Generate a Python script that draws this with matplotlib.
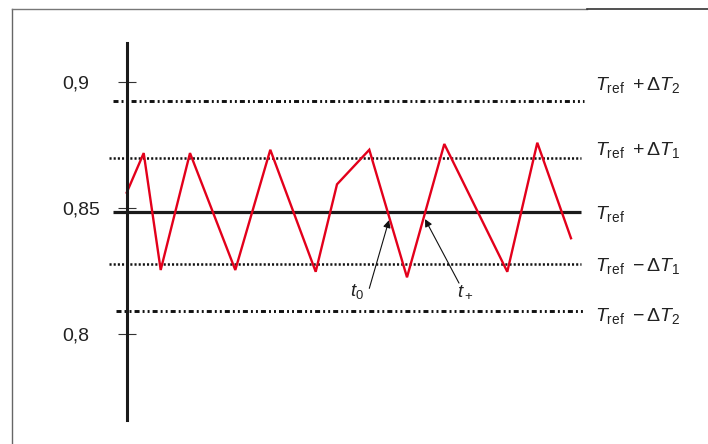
import matplotlib.pyplot as plt
from matplotlib.lines import Line2D

plt.rcParams['font.family'] = ['Liberation Sans', 'DejaVu Sans']
plt.rcParams['mathtext.fontset'] = 'custom'
plt.rcParams['mathtext.rm'] = 'Liberation Sans'
plt.rcParams['mathtext.it'] = 'Liberation Sans:italic'
plt.rcParams['lines.scale_dashes'] = False

# temperature course (time in arbitrary units)
t = [-0.03, 1.67, 3.37, 6.3, 10.83, 14.33, 18.87, 21.0, 24.23, 28.0,
     31.73, 38.03, 41.03, 44.4]
temp = [0.8561, 0.8718, 0.8254, 0.8718, 0.8254, 0.8731, 0.8247, 0.8594,
        0.8731, 0.8225, 0.8754, 0.8247, 0.8759, 0.838]

# reference levels
t_ref = 0.8484
level_plus2 = 0.8926
level_plus1 = 0.8697
level_minus1 = 0.8277
level_minus2 = 0.8091

ytick_vals = [0.8, 0.85, 0.9]
ytick_labels = ['0,8', '0,85', '0,9']

# crossing times marked with arrows
t0_point = (26.2, 0.8452)
tplus_point = (29.8, 0.8456)

fig = plt.figure(figsize=(7.08, 4.44), dpi=100)
ax = fig.add_axes([0, 0, 1, 1])
ax.set_xlim(-12.7, 58.1)
ax.set_ylim(0.75635, 0.93254)

for s in ['top', 'right', 'bottom']:
    ax.spines[s].set_visible(False)
ax.spines['left'].set_position(('data', 0))
ax.spines['left'].set_bounds(0.7659, 0.9155)
ax.spines['left'].set_linewidth(2.2)
ax.spines['left'].set_color('#1a1a1a')
ax.set_xticks([])
ax.set_yticks(ytick_vals, ytick_labels)
ax.tick_params(axis='y', direction='inout', length=13, width=0.8,
               color='#333333', labelsize=14, pad=40, labelcolor='#222222')
for lab in ax.get_yticklabels():
    lab.set_horizontalalignment('left')

dashdotdot = (0, (3.6, 2.2, 1.4, 2.2, 1.4, 2.2))
dotted = (0, (1.5, 1.5))
ax.hlines(level_plus2, -1.4, 45.7, colors='#111111', lw=2.1, linestyles=[dashdotdot])
ax.hlines(level_minus2, -1.1, 45.8, colors='#111111', lw=2.1, linestyles=[dashdotdot])
ax.hlines(level_plus1, -1.8, 45.4, colors='#111111', lw=1.8, linestyles=[dotted])
ax.hlines(level_minus1, -1.8, 45.4, colors='#111111', lw=1.8, linestyles=[dotted])
ax.hlines(t_ref, -1.4, 45.4, colors='#1a1a1a', lw=2.3)

ax.plot(t, temp, color='#e3001b', lw=1.7, solid_joinstyle='miter')

lab_x = 46.8
fs = 14
ax.text(lab_x, 0.8988, r'$T_{\mathrm{ref}}\ +\Delta T_2$', fontsize=fs, va='center', color='#222222')
ax.text(lab_x, 0.8730, r'$T_{\mathrm{ref}}\ +\Delta T_1$', fontsize=fs, va='center', color='#222222')
ax.text(lab_x, 0.8478, r'$T_{\mathrm{ref}}$', fontsize=fs, va='center', color='#222222')
ax.text(lab_x, 0.8270, r'$T_{\mathrm{ref}}\ -\Delta T_1$', fontsize=fs, va='center', color='#222222')
ax.text(lab_x, 0.8072, r'$T_{\mathrm{ref}}\ -\Delta T_2$', fontsize=fs, va='center', color='#222222')

ax.annotate('', xy=t0_point, xytext=(24.23, 0.8181),
            arrowprops=dict(arrowstyle='-|>', color='#111111', lw=0.8,
                            mutation_scale=11, shrinkA=0, shrinkB=0))
ax.annotate('', xy=tplus_point, xytext=(33.2, 0.8202),
            arrowprops=dict(arrowstyle='-|>', color='#111111', lw=0.8,
                            mutation_scale=11, shrinkA=0, shrinkB=0))
ax.text(22.3, 0.8167, r'$t_0$', fontsize=13.5, va='center', color='#222222')
ax.text(33.0, 0.8167, r'$t_+$', fontsize=13.5, va='center', color='#222222')

# outer frame
W, H = 708, 444
fig.add_artist(Line2D([12 / W, 12 / W], [1 - 9 / H, 0], color='#666666', lw=1.0))
fig.add_artist(Line2D([12 / W, 587 / W], [1 - 9 / H, 1 - 9 / H], color='#777777', lw=1.0))
fig.add_artist(Line2D([587 / W, 1], [1 - 9 / H, 1 - 9 / H], color='#333333', lw=1.2))

fig.savefig('out.png', dpi=100)
